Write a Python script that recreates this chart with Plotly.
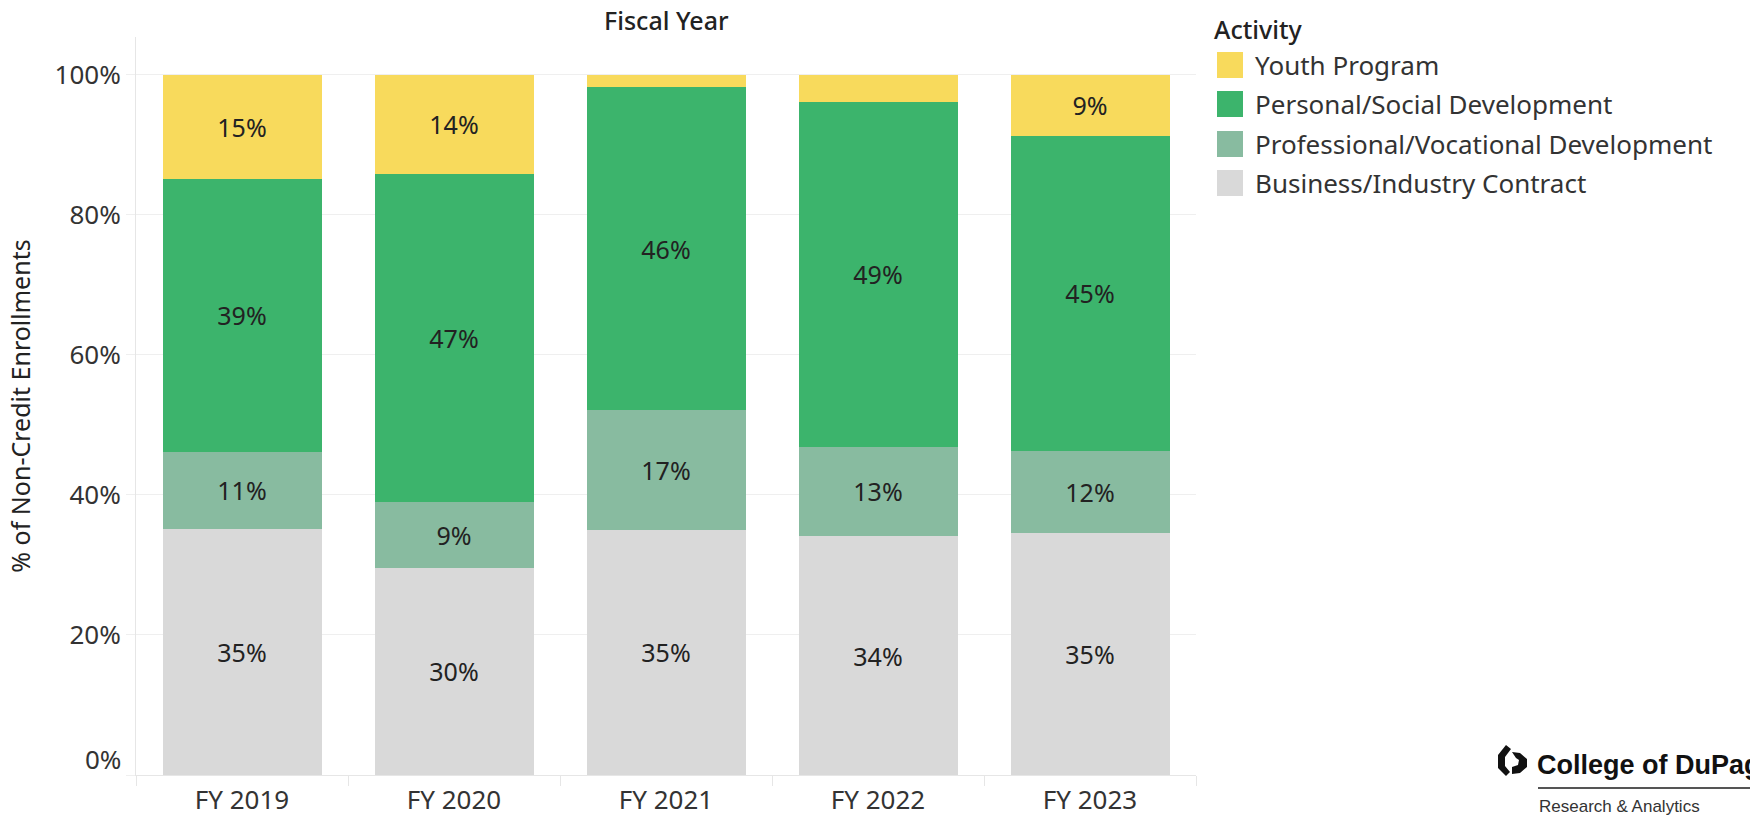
import plotly.graph_objects as go

# ---- data ----
years = ["FY 2019", "FY 2020", "FY 2021", "FY 2022", "FY 2023"]
business = [35.2, 29.6, 35.0, 34.1, 34.6]
professional = [11.0, 9.4, 17.1, 12.8, 11.7]
personal = [38.9, 46.9, 46.1, 49.2, 45.0]
youth = [14.9, 14.1, 1.8, 3.9, 8.7]

series_names = ["Youth Program", "Personal/Social Development",
                "Professional/Vocational Development", "Business/Industry Contract"]
series_values = [youth, personal, professional, business]
series_colors = ["#F8DA5C", "#3CB46C", "#88BBA0", "#D9D9D9"]

y_ticks = [0, 20, 40, 60, 80, 100]
y_ticktext = ["0%", "20%", "40%", "60%", "80%", "100%"]

# ---- layout geometry (pixels) ----
W, H = 1750, 819
L, R, T, B = 136, 1196, 37, 775
FONT = "Noto Sans"


def px2x(p):
    return (p - L) / (R - L)


def py2y(p):
    return (B - p) / (B - T)


fig = go.Figure()

# stack order bottom -> top
for name, vals, col in reversed(list(zip(series_names, series_values, series_colors))):
    fig.add_trace(go.Bar(
        x=years, y=vals, name=name, marker=dict(color=col, line=dict(width=0)),
        text=[f"{v:.0f}%" if v >= 5 else "" for v in vals],
        textposition="inside", insidetextanchor="middle", textangle=0,
        constraintext="none",
        textfont=dict(family=FONT, size=25, color="#222222"),
        showlegend=False, hoverinfo="skip",
    ))

# the 0% label sits just above the baseline in the reference; draw it separately
shown_ticktext = [""] + y_ticktext[1:]

fig.update_layout(
    width=W, height=H, barmode="stack", bargap=0.25,
    margin=dict(l=L, r=W - R, t=T, b=H - B, autoexpand=False),
    plot_bgcolor="white", paper_bgcolor="white",
    font=dict(family=FONT, color="#333333"),
    xaxis=dict(type="category", showline=True, linecolor="#e6e6e6", linewidth=1,
               ticks="outside", tickson="boundaries", ticklen=10, tickcolor="#e6e6e6",
               ticklabelstandoff=2,
               tickfont=dict(family=FONT, size=26, color="#333333"),
               showgrid=False, zeroline=False),
    yaxis=dict(range=[0, 105.4], tickvals=y_ticks, ticktext=shown_ticktext,
               showgrid=True, gridcolor="#efefef", gridwidth=1,
               ticks="outside", ticklen=9, tickcolor="#efefef",
               showline=True, linecolor="#e6e6e6", zeroline=False,
               tickfont=dict(family=FONT, size=26, color="#333333"),
               title=dict(text="% of Non-Credit Enrollments",
                          font=dict(family=FONT, size=25, color="#222222"),
                          standoff=16)),
)

annotations = []
shapes = []

annotations.append(dict(text=y_ticktext[0], x=px2x(123), y=py2y(759), xref="paper", yref="paper",
                        xanchor="right", yanchor="middle", showarrow=False,
                        font=dict(family=FONT, size=26, color="#333333")))

# top axis title
annotations.append(dict(text="Fiscal Year", x=0.5, y=py2y(20), xref="paper", yref="paper",
                        xanchor="center", yanchor="middle", showarrow=False,
                        font=dict(family=FONT, size=25, color="#222222", weight=500)))

# legend (custom, to match large swatches)
annotations.append(dict(text="Activity", x=px2x(1212), y=py2y(29), xref="paper", yref="paper",
                        xanchor="left", yanchor="middle", showarrow=False,
                        font=dict(family=FONT, size=25, color="#222222", weight=500)))
row_y = [65, 104, 144, 183]
for name, col, yc in zip(series_names, series_colors, row_y):
    shapes.append(dict(type="rect", xref="paper", yref="paper",
                       x0=px2x(1217), x1=px2x(1243), y0=py2y(yc + 13), y1=py2y(yc - 13),
                       fillcolor=col, line=dict(width=0)))
    annotations.append(dict(text=name, x=px2x(1253), y=py2y(yc), xref="paper", yref="paper",
                            xanchor="left", yanchor="middle", showarrow=False,
                            font=dict(family=FONT, size=26, color="#333333")))

# logo
annotations.append(dict(text="<b>College of DuPage</b>", x=px2x(1535), y=py2y(765),
                        xref="paper", yref="paper", xanchor="left", yanchor="middle",
                        showarrow=False, font=dict(family="Liberation Sans", size=27, color="#111111")))
annotations.append(dict(text="Research &amp; Analytics", x=px2x(1537), y=py2y(806),
                        xref="paper", yref="paper", xanchor="left", yanchor="middle",
                        showarrow=False, font=dict(family="Liberation Sans", size=17, color="#333333")))
shapes.append(dict(type="line", xref="paper", yref="paper", x0=px2x(1538), x1=px2x(1750),
                   y0=py2y(788), y1=py2y(788), line=dict(color="#555555", width=2)))


def path_px(points):
    return "M " + " L ".join(f"{px2x(a):.5f},{py2y(b):.5f}" for a, b in points) + " Z"


# logo icon: left bracket piece and right "D" piece
shapes.append(dict(type="path", xref="paper", yref="paper",
                   path=path_px([(1506, 745), (1511, 749), (1505, 757), (1505, 766), (1510, 772),
                                 (1506, 776), (1498, 768), (1498, 755)]),
                   fillcolor="#111111", line=dict(width=0)))
shapes.append(dict(type="path", xref="paper", yref="paper",
                   path=path_px([(1512, 752), (1520, 753), (1527, 759), (1527, 767), (1520, 773),
                                 (1512, 774), (1512, 767), (1518, 765), (1519, 760), (1516, 758)]),
                   fillcolor="#111111", line=dict(width=0)))

fig.update_layout(annotations=annotations, shapes=shapes)

fig.write_html("out.html", config={"displayModeBar": False},
               post_script="document.body.style.margin='0';document.body.style.overflow='hidden';")
